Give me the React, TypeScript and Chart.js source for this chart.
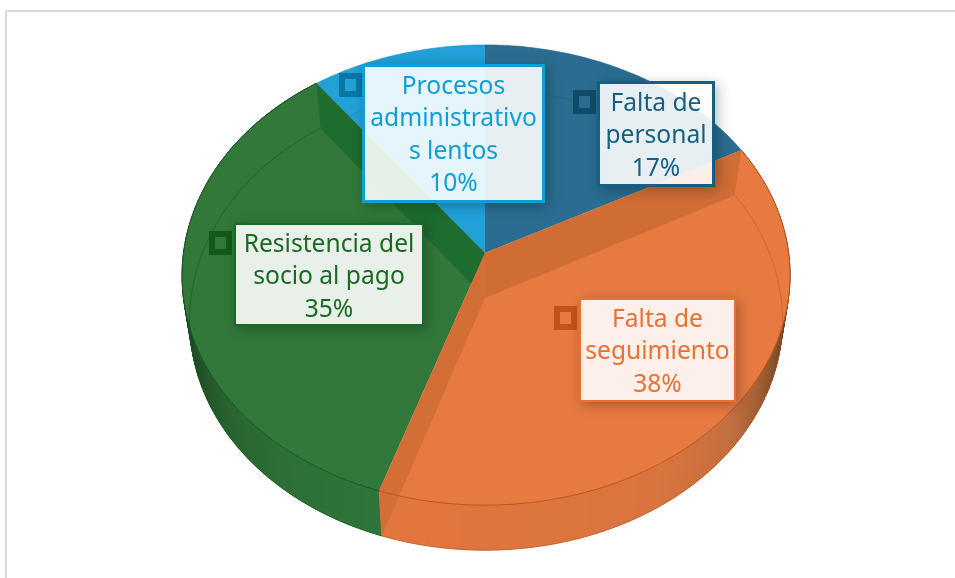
import React, { useEffect, useRef } from "react";
import { Chart, registerables } from "chart.js";

Chart.register(...registerables);

const categories = ["Falta de personal", "Falta de seguimiento", "Resistencia del socio al pago", "Procesos administrativos lentos"];
const values = [17, 38, 35, 10];
const percentLabels = ["17%", "38%", "35%", "10%"];
const labelLines = [
  ["Falta de", "personal"],
  ["Falta de", "seguimiento"],
  ["Resistencia del", "socio al pago"],
  ["Procesos", "administrativo", "s lentos"],
];
const sliceColors = ["#2a6d91", "#e77a41", "#31783a", "#21a1d8"];
const textColors = ["#156082", "#e97132", "#196b24", "#0f9ed5"];
const keyDark = ["#0f4c6a", "#c4531a", "#125a1c", "#0b76a4"];
const rimLine = ["#1c5675", "#b9561f", "#175a22", "#1886b5"];

// label layout: box x0, y0, x1, y1, first text line centre, border width
const boxes = [
  [597, 81, 715, 187, 103, 3],
  [579, 298, 736, 402, 319, 2],
  [234, 223, 424, 326, 244, 2],
  [362, 64, 545, 203, 86, 3],
];
const keys = [
  [573, 90],
  [554, 306],
  [209, 231],
  [339, 73],
];

const CX = 485, CY = 253, RX = 303.6, RY = 228, K = -0.0957, DEPTH = 45, SHRINK = 0.975;

const top = (raw: number) => {
  const a = raw - 0.014 * Math.sin(2 * raw);
  const c = Math.cos(a), s = Math.sin(a), d = 1 + K * s;
  const squeeze = c < 0 ? 1 - 0.007 * c * c * c * c : 1;
  return [CX + (RX * c * squeeze) / d, CY + (RY * s) / d];
};
const bot = (a: number) => {
  const p = top(a);
  return [CX + (p[0] - CX) * SHRINK, p[1] + DEPTH];
};
const APEX = [CX, CY];
const APEXB = [CX, CY + DEPTH];

const orangeStops: [number, number[]][] = [
  [-30, [100, 66, 34]], [12, [100, 66, 34]], [25, [140, 85, 45]], [40, [194, 110, 62]],
  [60, [218, 116, 62]], [110, [226, 118, 62]],
];
const greenStops: [number, number[]][] = [
  [105, [47, 117, 57]], [125, [46, 112, 55]], [140, [42, 102, 50]], [160, [30, 78, 38]],
  [178, [24, 60, 30]], [240, [24, 60, 30]],
];
const shade = (stops: [number, number[]][], deg: number) => {
  if (deg <= stops[0][0]) return `rgb(${stops[0][1].join(",")})`;
  for (let i = 1; i < stops.length; i++) {
    if (deg <= stops[i][0]) {
      const [d0, c0] = stops[i - 1], [d1, c1] = stops[i];
      const t = (deg - d0) / (d1 - d0);
      return `rgb(${c0.map((v, j) => Math.round(v + (c1[j] - v) * t)).join(",")})`;
    }
  }
  return `rgb(${stops[stops.length - 1][1].join(",")})`;
};

const poly = (ctx: CanvasRenderingContext2D, pts: number[][], fill: string) => {
  ctx.beginPath();
  pts.forEach((p, i) => (i ? ctx.lineTo(p[0], p[1]) : ctx.moveTo(p[0], p[1])));
  ctx.closePath();
  ctx.fillStyle = fill;
  ctx.fill();
};

const rimPoints = (fn: (a: number) => number[], a0: number, a1: number) => {
  const n = Math.max(2, Math.ceil(Math.abs(a1 - a0) / 0.01));
  const pts: number[][] = [];
  for (let i = 0; i <= n; i++) pts.push(fn(a0 + ((a1 - a0) * i) / n));
  return pts;
};

const strokePts = (ctx: CanvasRenderingContext2D, pts: number[][], color: string, width: number, alpha: number) => {
  ctx.beginPath();
  pts.forEach((p, i) => (i ? ctx.lineTo(p[0], p[1]) : ctx.moveTo(p[0], p[1])));
  ctx.strokeStyle = color;
  ctx.lineWidth = width;
  ctx.globalAlpha = alpha;
  ctx.stroke();
  ctx.globalAlpha = 1;
};

const drawPie = (chart: any) => {
  const ctx = chart.ctx as CanvasRenderingContext2D;
  const arcs = chart.getDatasetMeta(0).data as any[];
  const ang = arcs.map((el) => el.getProps(["startAngle", "endAngle"], true));
  ctx.save();
  ctx.lineJoin = "round";

  // outer wall of the green and orange slices
  [2, 1].forEach((i) => {
    const { startAngle: a0, endAngle: a1 } = ang[i];
    const stops = i === 1 ? orangeStops : greenStops;
    const step = (1 * Math.PI) / 180;
    for (let a = a0; a < a1; a += step) {
      const b = Math.min(a + step, a1);
      const col = shade(stops, (((a + b) / 2) * 180) / Math.PI);
      poly(ctx, [top(a), top(b), bot(b), bot(a)], col);
      ctx.strokeStyle = col;
      ctx.lineWidth = 1;
      ctx.stroke();
    }
  });

  const face = (i: number) =>
    poly(ctx, [APEX, ...rimPoints(top, ang[i].startAngle, ang[i].endAngle)], sliceColors[i]);
  const farRim = (i: number, alpha: number) =>
    strokePts(ctx, rimPoints(bot, ang[i].startAngle, ang[i].endAngle), rimLine[i], 1, alpha);

  face(0);
  farRim(0, 0.4);
  face(3);
  farRim(3, 0.4);
  face(2);
  farRim(2, 0.7);
  // cut wall of the green slice, seen through its top
  const gEnd = ang[2].endAngle;
  poly(ctx, [APEX, top(gEnd), bot(gEnd), APEXB], "#1d6d2e");
  face(1);
  farRim(1, 0.5);
  const oS = ang[1].startAngle, oE = ang[1].endAngle;
  poly(ctx, [APEX, top(oS), bot(oS), APEXB], "#d06d35");
  poly(ctx, [APEX, top(oE), bot(oE), APEXB], "#d26e36");

  arcs.forEach((_, i) => {
    const alpha = i === 1 || i === 2 ? 1 : 0.5;
    strokePts(ctx, rimPoints(top, ang[i].startAngle, ang[i].endAngle), rimLine[i], 1, alpha);
  });
  ctx.restore();
};

const perspectivePie = {
  id: "perspectivePie",
  beforeDraw(chart: any) {
    const ctx = chart.ctx as CanvasRenderingContext2D;
    ctx.save();
    ctx.fillStyle = "#ffffff";
    ctx.fillRect(0, 0, chart.width, chart.height);
    ctx.fillStyle = "#d9d9d9";
    ctx.fillRect(5, 10, chart.width - 5, 2);
    ctx.fillRect(5, 10, 2, chart.height - 10);
    ctx.restore();
  },
  beforeDatasetsDraw(chart: any) {
    drawPie(chart);
    return false;
  },
  afterDraw(chart: any) {
    const ctx = chart.ctx as CanvasRenderingContext2D;
    categories.forEach((_, i) => {
      const [x0, y0, x1, y1] = boxes[i];
      const [kx, ky] = keys[i];
      ctx.save();
      ctx.fillStyle = keyDark[i];
      ctx.fillRect(kx, ky, 23, 24);
      ctx.fillStyle = sliceColors[i];
      ctx.fillRect(kx + 6, ky + 6, 11, 12);

      ctx.shadowColor = "rgba(0,0,0,0.28)";
      ctx.shadowBlur = 12;
      ctx.shadowOffsetX = 3;
      ctx.shadowOffsetY = 3;
      ctx.fillStyle = textColors[i];
      ctx.fillRect(x0, y0, x1 - x0, y1 - y0);
      ctx.restore();
    });
    // The pie shows faintly through each box: repaint it, then veil it in white.
    categories.forEach((_, i) => {
      const [x0, y0, x1, y1, firstY, bw] = boxes[i];
      ctx.save();
      ctx.beginPath();
      ctx.rect(x0 + bw, y0 + bw, x1 - x0 - 2 * bw, y1 - y0 - 2 * bw);
      ctx.clip();
      ctx.fillStyle = "#ffffff";
      ctx.fillRect(x0, y0, x1 - x0, y1 - y0);
      drawPie(chart);
      ctx.fillStyle = "rgba(255,255,255,0.89)";
      ctx.fillRect(x0, y0, x1 - x0, y1 - y0);
      ctx.restore();

      ctx.save();
      ctx.fillStyle = textColors[i];
      ctx.font = '24.6px "Noto Sans"';
      ctx.textAlign = "center";
      ctx.textBaseline = "middle";
      const cx = (x0 + x1) / 2;
      [...labelLines[i], percentLabels[i]].forEach((line, j) => {
        ctx.fillText(line, cx, firstY + 1 + j * 32.4);
      });
      ctx.restore();
    });
  },
};

export default function App() {
  const ref = useRef<HTMLCanvasElement>(null);
  useEffect(() => {
    const chart = new Chart(ref.current!, {
      type: "pie",
      data: {
        labels: categories,
        datasets: [{ data: values, backgroundColor: sliceColors, borderWidth: 0 }],
      },
      options: {
        animation: false,
        responsive: false,
        plugins: { legend: { display: false }, tooltip: { enabled: false } },
      },
      plugins: [perspectivePie],
    } as any);
    return () => chart.destroy();
  }, []);
  return (
    <div style={{ position: "fixed", left: 0, top: 0 }}>
      <canvas ref={ref} width={955} height={578} style={{ display: "block" }} />
    </div>
  );
}
